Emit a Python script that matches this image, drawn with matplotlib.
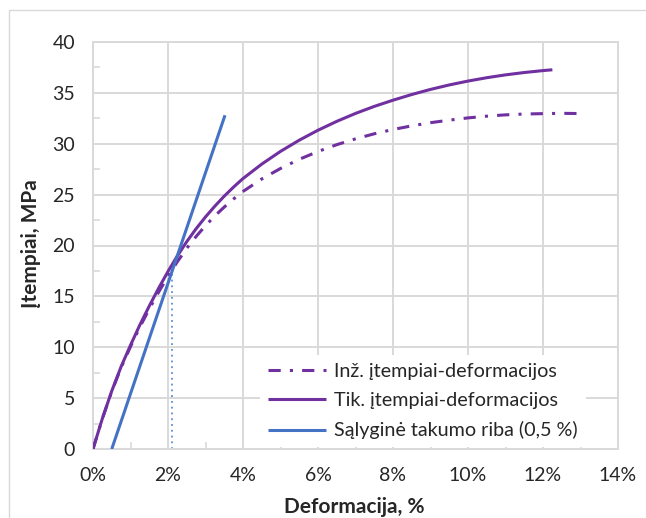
import matplotlib
matplotlib.use("Agg")
import matplotlib.pyplot as plt
from matplotlib.patches import Rectangle
from matplotlib.ticker import MultipleLocator

# Engineering stress-strain curve (strain in %, stress in MPa)
eng_strain = [0.0, 0.25, 0.5, 0.75, 1.0, 1.25, 1.5, 1.75, 2.0, 2.25, 2.5, 2.75, 3.0, 3.25,
              3.5, 3.75, 4.0, 4.5, 5.0, 5.5, 6.0, 6.5, 7.0, 7.5, 8.0, 8.5, 9.0, 9.5,
              10.0, 10.5, 11.0, 11.5, 12.0, 12.5, 12.94]
eng_stress = [0.0, 2.99, 5.66, 8.01, 10.06, 11.99, 13.76, 15.42, 16.98, 18.41, 19.72,
              20.89, 21.95, 22.91, 23.78, 24.58, 25.31, 26.54, 27.57, 28.47, 29.24,
              29.91, 30.48, 30.98, 31.40, 31.76, 32.07, 32.32, 32.54, 32.71, 32.84,
              32.92, 32.96, 32.99, 32.97]

# True stress-strain curve
true_strain = [0.0, 0.25, 0.5, 0.75, 1.0, 1.25, 1.5, 1.75, 2.0, 2.25, 2.5, 2.75, 3.0,
               3.25, 3.5, 3.75, 4.0, 4.5, 5.0, 5.5, 6.0, 6.5, 7.0, 7.5, 8.0, 8.5, 9.0,
               9.5, 10.0, 10.5, 11.0, 11.5, 12.0, 12.25]
true_stress = [0.0, 3.0, 5.7, 8.1, 10.2, 12.2, 14.05, 15.8, 17.45, 18.98, 20.38, 21.65,
               22.81, 23.87, 24.85, 25.75, 26.58, 28.0, 29.25, 30.35, 31.33, 32.2, 32.98,
               33.67, 34.28, 34.84, 35.34, 35.78, 36.16, 36.49, 36.77, 37.0, 37.19, 37.27]

# 0.5 % offset line and its intersection
offset_strain = [0.5, 3.52]
offset_stress = [0.0, 32.8]
yield_strain = [2.1, 2.1]
yield_stress = [0.0, 17.4]

x_ticks = [0, 2, 4, 6, 8, 10, 12, 14]
x_tick_labels = ["0%", "2%", "4%", "6%", "8%", "10%", "12%", "14%"]
y_ticks = [0, 5, 10, 15, 20, 25, 30, 35, 40]

series_names = ["Inž. įtempiai-deformacijos",
                "Tik. įtempiai-deformacijos",
                "Sąlyginė takumo riba (0,5 %)"]

plt.rcParams["font.family"] = ["Lato", "DejaVu Sans"]
text_color = "#262626"
grid_color = "#D9D9D9"
purple = "#7030A0"
blue = "#4472C4"

fig = plt.figure(figsize=(6.46, 5.18), dpi=100)
fig.patches.append(Rectangle((9 / 646, -0.1), 1.2, 1 - 10 / 518 + 0.1,
                             transform=fig.transFigure, fill=False,
                             edgecolor=grid_color, linewidth=1.0))

ax = fig.add_axes([93 / 646, 1 - 449 / 518, 525 / 646, 407 / 518])

ax.plot(eng_strain, eng_stress, color=purple, lw=2.2,
        linestyle=(0, (4, 3, 1, 3)), label=series_names[0], zorder=3)
ax.plot(true_strain, true_stress, color=purple, lw=2.2,
        label=series_names[1], zorder=3, solid_capstyle="butt", solid_joinstyle="round")
ax.plot(offset_strain, offset_stress, color=blue, lw=2.2,
        label=series_names[2], zorder=3, solid_capstyle="butt")
ax.plot(yield_strain, yield_stress, color="#5B8FD9", lw=1.3,
        linestyle=(0, (1, 2.2)), zorder=2)

ax.set_xlim(0, 14)
ax.set_ylim(0, 40)
ax.set_xticks(x_ticks)
ax.set_xticklabels(x_tick_labels)
ax.set_yticks(y_ticks)
ax.xaxis.set_minor_locator(MultipleLocator(1))
ax.yaxis.set_minor_locator(MultipleLocator(2.5))

ax.grid(True, which="major", color=grid_color, linewidth=1.4, zorder=0)
ax.set_axisbelow(True)
for s in ax.spines.values():
    s.set_color(grid_color)
    s.set_linewidth(1.4)

ax.tick_params(which="major", length=0, pad=13, labelsize=14, labelcolor=text_color)
ax.tick_params(which="minor", direction="in", length=5, width=1.2, color=grid_color)

fig.text(354 / 646, 1 - 507 / 518, "Deformacija, %", ha="center", va="center",
         fontsize=15, fontweight="bold", color=text_color)
fig.text(31 / 646, 1 - 244 / 518, "Įtempiai, MPa", ha="center", va="center",
         rotation=90, fontsize=15, fontweight="bold", color=text_color)

leg = ax.legend(loc="lower left", bbox_to_anchor=(0.319, 0.004), fontsize=14.2,
                frameon=True, fancybox=False, handlelength=2.9, handletextpad=0.45,
                labelspacing=0.62, borderpad=0.4, borderaxespad=0)
leg.get_frame().set_facecolor("white")
leg.get_frame().set_edgecolor("none")
leg.get_frame().set_alpha(1.0)
for t in leg.get_texts():
    t.set_color(text_color)

fig.savefig("out.png", dpi=100)
